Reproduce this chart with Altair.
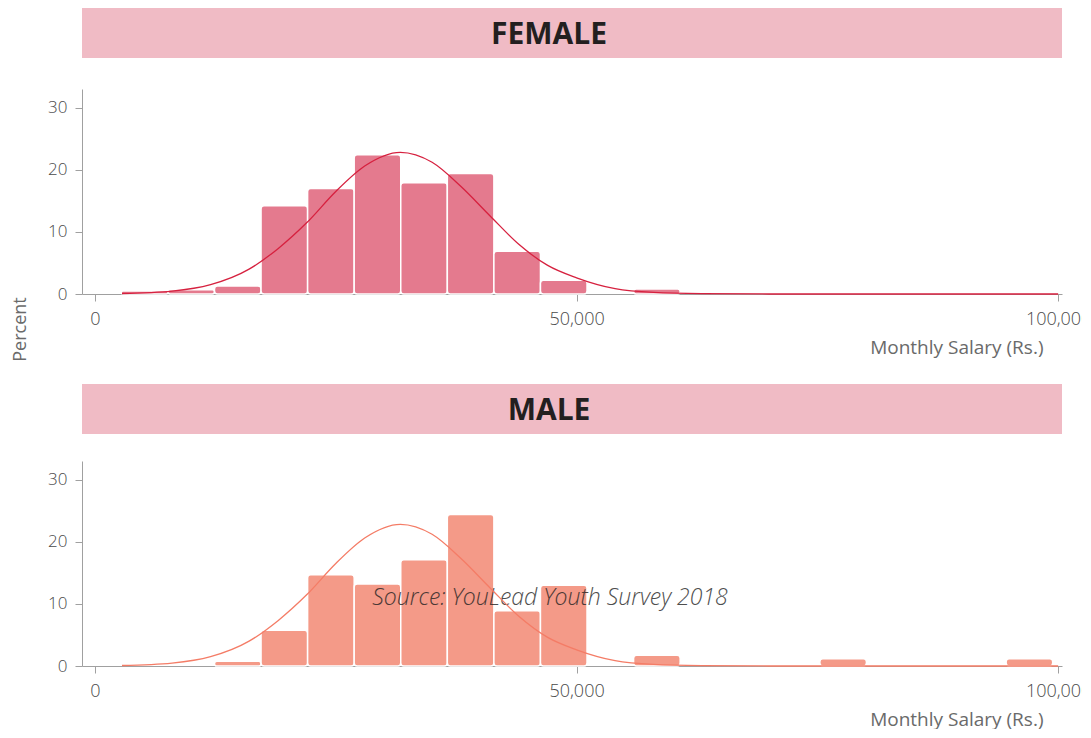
import altair as alt
import pandas as pd

# ---- data ----
bin_lo = [2735, 7570, 12405, 17240, 22075, 26910, 31745, 36580, 41415, 46250,
          51085, 55920, 60755, 65590, 70425, 75260, 80095, 84930, 89765, 94600]
bin_hi = [7570, 12405, 17240, 22075, 26910, 31745, 36580, 41415, 46250, 51085,
          55920, 60755, 65590, 70425, 75260, 80095, 84930, 89765, 94600, 99435]
female_pct = [0.5, 0.7, 1.3, 14.2, 17.0, 22.4, 17.9, 19.4, 6.9, 2.2,
              0.0, 0.8, 0.0, 0.0, 0.0, 0.0, 0.0, 0.0, 0.0, 0.0]
male_pct = [0.0, 0.0, 0.76, 5.75, 14.7, 13.2, 17.1, 24.4, 8.9, 13.0,
            0.0, 1.75, 0.0, 0.0, 0.0, 1.15, 0.0, 0.0, 0.0, 1.15]

# fitted normal curve (same in both panels)
curve_x = [2800, 8000, 12000, 16000, 19000, 22000, 25000, 28000, 31700, 35000,
           38000, 41000, 44000, 47000, 50000, 54000, 58000, 63000, 70000, 80000, 100000]
curve_y = [0.08, 0.47, 1.5, 4.0, 7.3, 11.5, 16.5, 20.6, 22.8, 21.2,
           17.3, 12.6, 8.0, 4.6, 2.6, 0.85, 0.25, 0.06, 0.0, 0.0, 0.0]

x_ticks = [0, 50000, 100000]
y_ticks = [0, 10, 20, 30]
source_text = "Source: YouLead Youth Survey 2018"

FONT = "Open Sans"
HEADER = "#f0bbc5"
W, H = 980, 205

def bars_df(pct):
    df = pd.DataFrame({"lo": bin_lo, "hi": bin_hi, "pct": pct})
    return df[df.pct > 0]

curve_df = pd.DataFrame({"x": curve_x, "y": curve_y})

xscale = alt.Scale(domain=[-1350, 100400], nice=False, zero=False)
yscale = alt.Scale(domain=[0, 33], nice=False)


def header(label, top_gap, extra_bottom):
    """Header band 50px tall, placed top_gap px below the top of its chart."""
    hh = top_gap + 50 + extra_bottom
    df = pd.DataFrame({"label": [label]})
    base = alt.Chart(df).properties(width=W, height=hh)
    rect = base.mark_rect(color=HEADER).encode(
        x=alt.value(0), x2=alt.value(W), y=alt.value(top_gap), y2=alt.value(top_gap + 50))
    txt = base.mark_text(font=FONT, fontSize=30, fontWeight="bold", color="#231f20",
                         baseline="alphabetic", align="center").encode(
        x=alt.value(467), y=alt.value(top_gap + 36), text="label:N")
    return alt.layer(rect, txt)


def panel(pct, bar_color, line_color, show_ytitle, with_source):
    xaxis = alt.Axis(values=x_ticks, labelExpr="format(datum.value, ',')",
                     title="Monthly Salary (Rs.)", titleFontSize=19,
                     titleAlign="right", titleAnchor="start", titleX=961, titleY=59,
                     titleBaseline="alphabetic", labelPadding=9, labelFontSize=18)
    if show_ytitle:
        yaxis = alt.Axis(values=y_ticks, title="Percent", titleX=-62, titleY=240,
                         titleFontSize=18,
                         titleAlign="center", titleBaseline="middle", titleAngle=-90)
    else:
        yaxis = alt.Axis(values=y_ticks, title=None)

    bars = alt.Chart(bars_df(pct)).mark_bar(
        color=bar_color, stroke="white", strokeWidth=1.5, cornerRadius=3
    ).encode(
        x=alt.X("lo:Q", scale=xscale, axis=xaxis),
        x2="hi:Q",
        y=alt.Y("pct:Q", scale=yscale, axis=yaxis),
        y2=alt.datum(0),
    )
    line = alt.Chart(curve_df).mark_line(
        color=line_color, strokeWidth=1.3, interpolate="monotone"
    ).encode(x=alt.X("x:Q", scale=xscale, axis=xaxis),
             y=alt.Y("y:Q", scale=yscale, axis=yaxis))
    layers = [bars, line]
    if with_source:
        src = alt.Chart(pd.DataFrame({"t": [source_text]})).mark_text(
            font=FONT, fontSize=23, fontStyle="italic", fontWeight=300,
            color="#222222", opacity=0.8, align="center", baseline="alphabetic"
        ).encode(x=alt.value(468), y=alt.value(144), text="t:N")
        layers = [bars, src, line]
    return alt.layer(*layers).properties(width=W, height=H)


chart = alt.vconcat(
    header("FEMALE", 0, 4),
    panel(female_pct, "#e47a8e", "#d6213f", True, False),
    header("MALE", 63, 0),
    panel(male_pct, "#f49a88", "#f47c66", False, True),
    spacing=27, bounds="flush",
).properties(
    padding={"left": 3, "top": 0, "right": -9, "bottom": 0}
).configure_view(stroke=None).configure_axis(
    grid=False, domainColor="#a0a0a0", tickColor="#a0a0a0", tickSize=7,
    labelFont=FONT, labelFontSize=17, labelColor="#4a4a4a", labelFontWeight=300,
    titleFont=FONT, titleFontSize=17, titleColor="#6a6a6a", titleFontWeight="normal",
).configure_axisY(labelPadding=8)

chart.save("out.html", embed_options={"renderer": "svg", "actions": False})
